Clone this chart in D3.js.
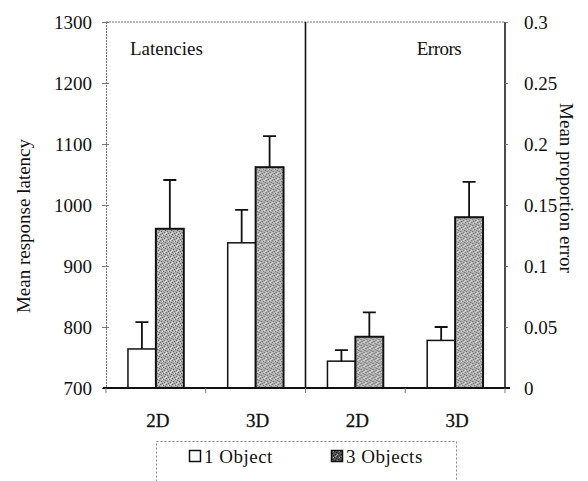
<!DOCTYPE html>
<html>
<head>
<meta charset="utf-8">
<style>
  body { margin: 0; background: #fff; }
  svg text { font-family: "Liberation Serif", "Times New Roman", serif; fill: #111; }
</style>
</head>
<body>
<svg width="588" height="481"></svg>
<script src="https://d3js.org/d3.v7.min.js"></script>
<script>

// conditions along the x axis, two panels
var panels = ["Latencies", "Errors"],
    conditions = ["2D", "3D"],
    series = ["1 Object", "3 Objects"];

// mean response latency (ms) and the top of its error bar
var latOne = [764, 938],
    latOneTop = [808, 992],
    latThree = [961, 1062],
    latThreeTop = [1041, 1113];

// mean proportion error and the top of its error bar
var errOne = [0.022, 0.039],
    errOneTop = [0.031, 0.050],
    errThree = [0.042, 0.140],
    errThreeTop = [0.062, 0.169];

var latTicks = [700, 800, 900, 1000, 1100, 1200, 1300],
    errTicks = [0, 0.05, 0.1, 0.15, 0.2, 0.25, 0.3];

var svg = d3.select("svg"),
    pLeft = 106, pRight = 505, pTop = 22, pBottom = 388,
    fs = 19;

// build the rows from the arrays
var groups = [];
panels.forEach(function(p, pi) {
  conditions.forEach(function(c, ci) {
    groups.push({
      key: p + "-" + c, panel: p, cond: c,
      bars: [
        {s: series[0], v: pi ? errOne[ci] : latOne[ci], top: pi ? errOneTop[ci] : latOneTop[ci]},
        {s: series[1], v: pi ? errThree[ci] : latThree[ci], top: pi ? errThreeTop[ci] : latThreeTop[ci]}
      ]
    });
  });
});

var x = d3.scaleBand().domain(groups.map(function(d) { return d.key; })).range([pLeft, pRight]),
    xs = d3.scaleBand().domain(series).range([0, x.bandwidth()]).paddingOuter(0.786),
    yLat = d3.scaleLinear().domain([700, 1300]).range([pBottom, pTop]),
    yErr = d3.scaleLinear().domain([0, 0.3]).range([pBottom, pTop]);

function yFor(g) { return g.panel === "Latencies" ? yLat : yErr; }

// stipple patterns for the grey bars and the legend swatch
var defs = svg.append("defs");
function stipple(id, base, dark, light) {
  var pat = defs.append("pattern").attr("id", id).attr("patternUnits", "userSpaceOnUse")
      .attr("width", 6).attr("height", 6);
  pat.append("rect").attr("width", 6).attr("height", 6).attr("fill", base);
  [[0,0],[3,1],[1,3],[4,4],[5,2],[2,5]].forEach(function(p) {
    pat.append("rect").attr("x", p[0]).attr("y", p[1]).attr("width", 1).attr("height", 1).attr("fill", dark);
  });
  [[2,1],[0,4],[4,0],[5,5]].forEach(function(p) {
    pat.append("rect").attr("x", p[0]).attr("y", p[1]).attr("width", 1).attr("height", 1).attr("fill", light);
  });
}
stipple("stipple", "#b0b0b0", "#666", "#e0e0e0");
stipple("stippleDark", "#555", "#222", "#aaa");

// frame: dotted top and left, solid right and divider
svg.append("line").attr("x1", pLeft).attr("x2", pRight).attr("y1", pTop).attr("y2", pTop)
    .attr("stroke", "#777").attr("stroke-dasharray", "2,1");
svg.append("line").attr("x1", pRight).attr("x2", pRight).attr("y1", pTop).attr("y2", pBottom)
    .attr("stroke", "#111").attr("stroke-width", 1.5);
svg.append("line").attr("x1", x(groups[2].key)).attr("x2", x(groups[2].key)).attr("y1", pTop).attr("y2", pBottom)
    .attr("stroke", "#111").attr("stroke-width", 1.6);

// left axis
var ga = svg.append("g").attr("transform", "translate(" + pLeft + ",0)")
    .call(d3.axisLeft(yLat).tickValues(latTicks).tickSize(4).tickPadding(10).tickFormat(d3.format("")));
ga.select(".domain").attr("stroke", "#777").attr("stroke-dasharray", "2,1");
ga.selectAll(".tick line").attr("stroke", "#777");
ga.selectAll(".tick").append("line").attr("x2", 3).attr("stroke", "#777");
ga.selectAll("text").attr("font-size", fs).style("font-family", "Liberation Serif").attr("fill", "#111");

// right axis
var gr = svg.append("g").attr("transform", "translate(" + pRight + ",0)")
    .call(d3.axisRight(yErr).tickValues(errTicks).tickSize(3).tickPadding(16).tickFormat(d3.format("")));
gr.select(".domain").remove();
gr.selectAll(".tick line").attr("stroke", "#777");
gr.selectAll("text").attr("font-size", fs).style("font-family", "Liberation Serif").attr("fill", "#111");

// bars
var gg = svg.append("g").selectAll("g").data(groups).enter().append("g")
    .attr("transform", function(d) { return "translate(" + x(d.key) + ",0)"; });

gg.each(function(g) {
  var y = yFor(g), sel = d3.select(this);
  sel.selectAll("rect").data(g.bars).enter().append("rect")
      .attr("x", function(d) { return xs(d.s); })
      .attr("y", function(d) { return y(d.v); })
      .attr("width", xs.bandwidth())
      .attr("height", function(d) { return pBottom - y(d.v); })
      .attr("fill", function(d, i) { return i ? "url(#stipple)" : "#fff"; })
      .attr("stroke", "#111")
      .attr("stroke-width", function(d, i) { return i ? 2 : 1.5; });
  sel.selectAll(".err").data(g.bars).enter().append("path")
      .attr("class", "err")
      .attr("fill", "none").attr("stroke", "#111").attr("stroke-width", 1.8)
      .attr("d", function(d) {
        var cx = xs(d.s) + xs.bandwidth() / 2;
        return "M" + cx + "," + y(d.v) + "V" + y(d.top) + "M" + (cx - 6.5) + "," + y(d.top) + "H" + (cx + 6.5);
      });
});

// baseline and group ticks
svg.append("line").attr("x1", 103).attr("x2", 510).attr("y1", pBottom).attr("y2", pBottom)
    .attr("stroke", "#111").attr("stroke-width", 2);
var edges = groups.map(function(d) { return x(d.key); }).concat([pRight]);
svg.append("g").selectAll("line").data(edges).enter().append("line")
    .attr("x1", function(d) { return d; }).attr("x2", function(d) { return d; })
    .attr("y1", pBottom).attr("y2", pBottom + 5).attr("stroke", "#777");

svg.append("g").selectAll("text").data(groups).enter().append("text")
    .attr("x", function(d) { return x(d.key) + x.bandwidth() / 2 + 2; })
    .attr("y", 427).attr("text-anchor", "middle").attr("font-size", fs)
    .attr("stroke", "#111").attr("stroke-width", 0.3)
    .text(function(d) { return d.cond; });

// panel titles
svg.append("text").attr("x", 130).attr("y", 55).attr("font-size", fs).text(panels[0]);
svg.append("text").attr("x", 439).attr("y", 55).attr("font-size", fs).attr("text-anchor", "middle")
    .attr("letter-spacing", -0.5).text(panels[1]);

// axis titles
svg.append("text").attr("transform", "translate(30,226) rotate(-90)").attr("text-anchor", "middle")
    .attr("font-size", fs).text("Mean response latency");
svg.append("text").attr("transform", "translate(560,188) rotate(90)").attr("text-anchor", "middle")
    .attr("font-size", fs).text("Mean proportion error");

// legend
svg.append("rect").attr("x", 156.5).attr("y", 441.5).attr("width", 300).attr("height", 60)
    .attr("fill", "none").attr("stroke", "#888").attr("stroke-dasharray", "2,2");
var lg = svg.append("g").selectAll("g").data(series).enter().append("g")
    .attr("transform", function(d, i) { return "translate(" + (i ? 331 : 189) + ",450)"; });
lg.append("rect").attr("x", 0.5).attr("y", 0.5).attr("width", 11).attr("height", 11)
    .attr("fill", function(d, i) { return i ? "url(#stippleDark)" : "#fff"; })
    .attr("stroke", "#111").attr("stroke-width", 1.5);
lg.append("text").attr("x", 15).attr("y", 12.5).attr("font-size", fs)
    .attr("letter-spacing", 0.5).text(function(d) { return d; });

</script>
</body>
</html>
